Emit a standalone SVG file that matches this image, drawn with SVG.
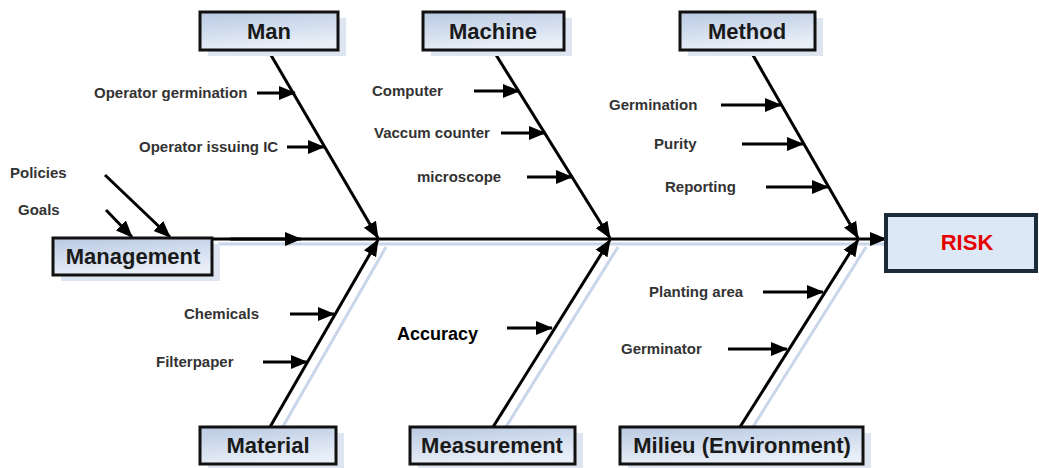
<svg xmlns="http://www.w3.org/2000/svg" width="1039" height="468" viewBox="0 0 1039 468">
<defs>
<linearGradient id="boxg" x1="0" y1="0" x2="0.3" y2="1">
<stop offset="0" stop-color="#b9c9e2"/>
<stop offset="1" stop-color="#e9eff8"/>
</linearGradient>
<marker id="ah" markerUnits="userSpaceOnUse" markerWidth="18" markerHeight="16" refX="16" refY="8" orient="auto">
<path d="M0,1 L17,8 L0,15 Z" fill="#000"/>
</marker>
</defs>
<style>
.box{fill:url(#boxg);stroke:#111;stroke-width:3}
.shadow{fill:#dde5f0}
.bt{font-family:"Liberation Sans",Arial,sans-serif;font-weight:bold;font-size:22px;fill:#1a1a1a;text-anchor:middle}
.lb{font-family:"Liberation Sans",Arial,sans-serif;font-weight:bold;font-size:15px;fill:#333}
.bone{stroke:#000;stroke-width:3;fill:none}
.sub{stroke:#000;stroke-width:3;fill:none;marker-end:url(#ah)}
.sh{stroke:#c9d6ea;stroke-width:3;fill:none}
</style>
<rect width="1039" height="468" fill="#fff"/>
<g id="connectors">
<line class="sh" x1="218" y1="244" x2="886" y2="244"/>
<line class="sh" x1="281" y1="430" x2="386" y2="247"/>
<line class="sh" x1="504" y1="430" x2="618" y2="247"/>
<line class="sh" x1="751" y1="430" x2="866" y2="247"/>
<line class="bone" x1="212" y1="239" x2="886" y2="239" marker-end="url(#ah)"/>
<line class="sub" x1="230" y1="239" x2="301" y2="239"/>
<line class="sub" x1="268" y1="50" x2="378" y2="238"/>
<line class="sub" x1="493" y1="50" x2="610" y2="238"/>
<line class="sub" x1="750" y1="50" x2="858" y2="238"/>
<line class="sub" x1="270" y1="427" x2="378" y2="240"/>
<line class="sub" x1="493" y1="427" x2="610" y2="240"/>
<line class="sub" x1="740" y1="427" x2="858" y2="240"/>
<line class="sub" x1="257" y1="93" x2="295" y2="93"/>
<line class="sub" x1="287" y1="147" x2="324" y2="147"/>
<line class="sub" x1="474" y1="91" x2="519" y2="91"/>
<line class="sub" x1="501" y1="133" x2="545" y2="133"/>
<line class="sub" x1="527" y1="177" x2="572" y2="177"/>
<line class="sub" x1="721" y1="105" x2="781" y2="105"/>
<line class="sub" x1="742" y1="144" x2="803" y2="144"/>
<line class="sub" x1="766" y1="187" x2="828" y2="187"/>
<line class="sub" x1="290" y1="314" x2="334" y2="314"/>
<line class="sub" x1="263" y1="362" x2="307" y2="362"/>
<line class="sub" x1="507" y1="328" x2="552" y2="328"/>
<line class="sub" x1="763" y1="292" x2="823" y2="292"/>
<line class="sub" x1="728" y1="349" x2="787" y2="349"/>
<line class="sub" x1="105" y1="175" x2="170" y2="237"/>
<line class="sub" x1="106" y1="210" x2="132" y2="237"/>
</g>
<g id="man"><rect class="shadow" x="208" y="18" width="138" height="38"/><rect class="box" x="200" y="12" width="138" height="38"/><text class="bt" x="269" y="39">Man</text></g>
<g id="machine"><rect class="shadow" x="431" y="18" width="141" height="38"/><rect class="box" x="423" y="12" width="141" height="38"/><text class="bt" x="493" y="39">Machine</text></g>
<g id="method"><rect class="shadow" x="688" y="18" width="135" height="38"/><rect class="box" x="680" y="12" width="135" height="38"/><text class="bt" x="747" y="39">Method</text></g>
<g id="material"><rect class="shadow" x="208" y="433" width="136" height="35"/><rect class="box" x="200" y="427" width="136" height="37"/><text class="bt" x="268" y="453">Material</text></g>
<g id="measurement"><rect class="shadow" x="418" y="433" width="165" height="35"/><rect class="box" x="410" y="427" width="165" height="37"/><text class="bt" x="492" y="453">Measurement</text></g>
<g id="milieu"><rect class="shadow" x="628" y="433" width="243" height="35"/><rect class="box" x="620" y="427" width="243" height="37"/><text class="bt" x="742" y="453">Milieu (Environment)</text></g>
<g id="management"><rect class="shadow" x="61" y="244" width="159" height="37"/><rect class="box" x="53" y="238" width="159" height="37"/><text class="bt" x="133" y="264">Management</text></g>
<g id="risk"><rect x="886" y="215" width="150" height="56" fill="#dce8f5" stroke="#1c2b3a" stroke-width="4"/><text x="967" y="250" font-family="'Liberation Sans',Arial,sans-serif" font-weight="bold" font-size="22" fill="#e60000" text-anchor="middle">RISK</text></g>
<g id="labels">
<text class="lb" x="94" y="98">Operator germination</text>
<text class="lb" x="139" y="152">Operator issuing IC</text>
<text class="lb" x="10" y="178">Policies</text>
<text class="lb" x="18" y="215">Goals</text>
<text class="lb" x="372" y="96">Computer</text>
<text class="lb" x="374" y="138">Vaccum counter</text>
<text class="lb" x="417" y="182">microscope</text>
<text class="lb" x="609" y="110">Germination</text>
<text class="lb" x="654" y="149">Purity</text>
<text class="lb" x="665" y="192">Reporting</text>
<text class="lb" x="184" y="319">Chemicals</text>
<text class="lb" x="156" y="367">Filterpaper</text>
<text x="397" y="340" font-family="'Liberation Sans',Arial,sans-serif" font-weight="bold" font-size="18" fill="#000">Accuracy</text>
<text class="lb" x="649" y="297">Planting area</text>
<text class="lb" x="621" y="354">Germinator</text>
</g>
</svg>
